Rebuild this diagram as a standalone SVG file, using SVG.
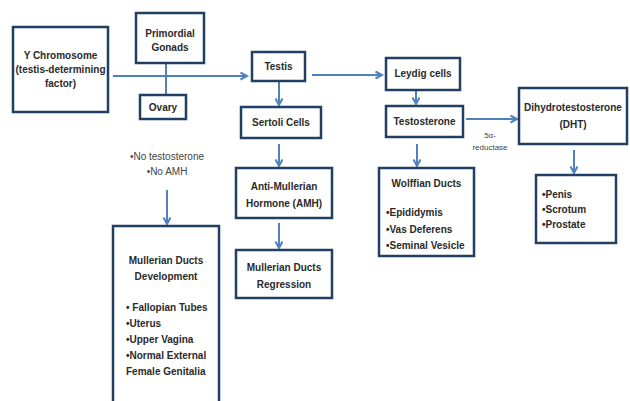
<svg xmlns="http://www.w3.org/2000/svg" width="630" height="401" viewBox="0 0 630 401">
<defs>
<marker id="arr" markerWidth="10" markerHeight="10" refX="7" refY="4" orient="auto" markerUnits="userSpaceOnUse">
<path d="M0.5,0.5 L7,4 L0.5,7.5" fill="none" stroke="#4f81bd" stroke-width="2"/>
</marker>
<style>
.box{fill:#fff;stroke:#213f63;stroke-width:2.5}
.t{font-family:"Liberation Sans",Arial,sans-serif;font-size:10px;font-weight:bold;fill:#2a2a2a}
.c{text-anchor:middle}
.s{font-family:"Liberation Sans",Arial,sans-serif;font-size:10px;fill:#444}
.xs{font-family:"Liberation Sans",Arial,sans-serif;font-size:8px;fill:#444;text-anchor:middle}
.ln{fill:none;stroke:#4f81bd;stroke-width:2}
</style>
</defs>
<rect width="630" height="401" fill="#fff"/>
<g id="connectors">
<line class="ln" x1="113" y1="76" x2="247" y2="76" marker-end="url(#arr)"/>
<line class="ln" x1="166" y1="63" x2="166" y2="95"/>
<line class="ln" x1="312" y1="75" x2="382" y2="75" marker-end="url(#arr)"/>
<line class="ln" x1="279" y1="81" x2="279" y2="105" marker-end="url(#arr)"/>
<line class="ln" x1="416" y1="90" x2="416" y2="104" marker-end="url(#arr)"/>
<line class="ln" x1="466" y1="119" x2="517" y2="119" marker-end="url(#arr)"/>
<line class="ln" x1="279" y1="144" x2="279" y2="166" marker-end="url(#arr)"/>
<line class="ln" x1="417" y1="144" x2="417" y2="166" marker-end="url(#arr)"/>
<line class="ln" x1="574" y1="150" x2="574" y2="173" marker-end="url(#arr)"/>
<line class="ln" x1="279" y1="223" x2="279" y2="248" marker-end="url(#arr)"/>
<line class="ln" x1="167" y1="190" x2="167" y2="224" marker-end="url(#arr)"/>
</g>
<g id="y-chromosome">
<rect class="box" x="13" y="27" width="95" height="85"/>
<text class="t c" x="60.5" y="59">Y Chromosome</text>
<text class="t c" x="60.5" y="73">(testis-determining</text>
<text class="t c" x="60.5" y="87">factor)</text>
</g>
<g id="primordial-gonads">
<rect class="box" x="136" y="13" width="68" height="50"/>
<text class="t c" x="170" y="37">Primordial</text>
<text class="t c" x="170" y="51">Gonads</text>
</g>
<g id="ovary">
<rect class="box" x="140" y="95" width="46" height="24"/>
<text class="t c" x="163" y="111">Ovary</text>
</g>
<g id="testis">
<rect class="box" x="252" y="52" width="53" height="29"/>
<text class="t c" x="278.5" y="70">Testis</text>
</g>
<g id="leydig">
<rect class="box" x="386" y="58" width="74" height="32"/>
<text class="t c" x="423" y="77">Leydig cells</text>
</g>
<g id="sertoli">
<rect class="box" x="241" y="107" width="80" height="31"/>
<text class="t c" x="281" y="126">Sertoli Cells</text>
</g>
<g id="testosterone">
<rect class="box" x="386" y="106" width="77" height="31"/>
<text class="t c" x="424.5" y="125">Testosterone</text>
</g>
<g id="dht">
<rect class="box" x="519" y="88" width="108" height="56"/>
<text class="t c" x="573" y="111">Dihydrotestosterone</text>
<text class="t c" x="573" y="128">(DHT)</text>
</g>
<g id="reductase-label">
<text class="xs" x="490" y="138">5α-</text>
<text class="xs" x="490" y="150">reductase</text>
</g>
<g id="no-label">
<text class="s c" x="167" y="160">•No testosterone</text>
<text class="s c" x="167" y="175">•No AMH</text>
</g>
<g id="amh">
<rect class="box" x="236" y="168" width="96" height="50"/>
<text class="t c" x="284" y="190">Anti-Mullerian</text>
<text class="t c" x="284" y="207">Hormone (AMH)</text>
</g>
<g id="wolffian">
<rect class="box" x="379" y="168" width="95" height="88"/>
<text class="t c" x="426.5" y="187">Wolffian Ducts</text>
<text class="t" x="386" y="216">•Epididymis</text>
<text class="t" x="386" y="233">•Vas Deferens</text>
<text class="t" x="386" y="249">•Seminal Vesicle</text>
</g>
<g id="male-genitalia">
<rect class="box" x="536" y="175" width="80" height="68"/>
<text class="t" x="542" y="198">•Penis</text>
<text class="t" x="542" y="213">•Scrotum</text>
<text class="t" x="542" y="228">•Prostate</text>
</g>
<g id="regression">
<rect class="box" x="236" y="250" width="96" height="48"/>
<text class="t c" x="284" y="271">Mullerian Ducts</text>
<text class="t c" x="284" y="288">Regression</text>
</g>
<g id="mullerian-development">
<rect class="box" x="113" y="226" width="106" height="190"/>
<text class="t c" x="166" y="264">Mullerian Ducts</text>
<text class="t c" x="166" y="280">Development</text>
<text class="t" x="126" y="311">• Fallopian Tubes</text>
<text class="t" x="126" y="327">•Uterus</text>
<text class="t" x="126" y="343">•Upper Vagina</text>
<text class="t" x="126" y="359">•Normal External</text>
<text class="t" x="126" y="375">Female Genitalia</text>
</g>
</svg>
